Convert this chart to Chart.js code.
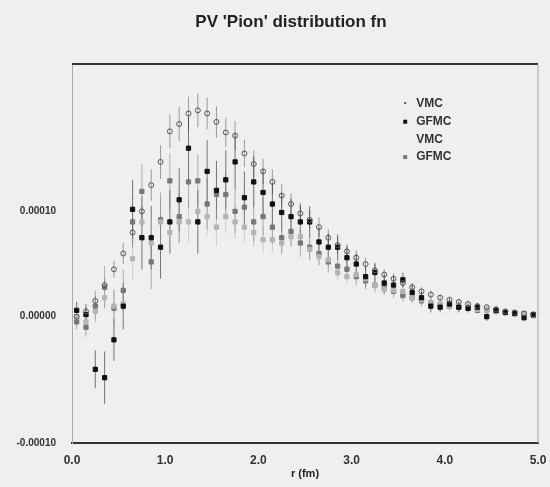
<!DOCTYPE html>
<html lang="en">
<head>
    <meta charset="UTF-8">
    <title>PV 'Pion' distribution fn</title>
    <script src="https://cdn.jsdelivr.net/npm/chart.js"></script>
    <style>
        html, body { margin: 0; padding: 0; background: #efefef; }
        #wrap { width: 550px; height: 487px; }
    </style>
</head>
<body>
<div id="wrap"><canvas id="pionChart" width="550" height="487"></canvas></div>
<script>
// r (fm) where the points sit
const rVals = [0.05,0.15,0.25,0.35,0.45,0.55,0.65,0.75,0.85,0.95,
               1.05,1.15,1.25,1.35,1.45,1.55,1.65,1.75,1.85,1.95,
               2.05,2.15,2.25,2.35,2.45,2.55,2.65,2.75,2.85,2.95,
               3.05,3.15,3.25,3.35,3.45,3.55,3.65,3.75,3.85,3.95,
               4.05,4.15,4.25,4.35,4.45,4.55,4.65,4.75,4.85,4.95];

// values below are in units of 1e-5
const UNIT = 1e-5;

const vmcA = [0.0,0.5,1.5,3.0,4.5,6.0,8.0,10.0,12.5,14.7,
              17.6,18.3,19.3,19.6,19.3,18.5,17.5,17.2,15.5,14.5,
              13.8,12.8,11.5,10.7,9.8,9.2,8.5,7.5,6.8,6.2,
              5.6,5.0,4.4,4.0,3.6,3.2,2.8,2.4,2.1,1.8,
              1.6,1.4,1.2,1.0,0.9,0.7,0.5,0.4,0.3,0.2];
const vmcAErr = [0.3,0.4,0.5,0.6,0.8,1.0,1.2,1.4,1.5,1.6,
                 1.6,1.6,1.6,1.6,1.5,1.5,1.4,1.4,1.3,1.3,
                 1.2,1.2,1.1,1.0,1.0,0.9,0.9,0.8,0.8,0.7,
                 0.7,0.6,0.6,0.5,0.5,0.5,0.4,0.4,0.4,0.3,
                 0.3,0.3,0.3,0.3,0.2,0.2,0.2,0.2,0.2,0.2];

const gfmcA = [0.6,0.2,-5.0,-5.8,-2.2,1.0,10.2,7.5,7.5,6.6,
               9.0,11.1,16.0,9.0,13.8,12.0,13.0,14.7,11.3,12.8,
               11.8,10.7,9.9,9.5,9.0,9.0,7.1,6.6,6.6,5.6,
               5.0,3.8,4.2,3.2,3.0,3.5,2.3,1.8,1.0,0.9,
               1.2,0.9,0.8,0.9,0.0,0.6,0.4,0.3,-0.1,0.2];
const gfmcAErr = [0.8,1.0,1.8,2.5,2.0,2.2,2.8,3.0,3.0,3.0,
                  3.0,3.0,3.0,3.0,3.0,2.8,2.8,2.6,2.5,2.4,
                  2.2,2.0,1.8,1.7,1.6,1.5,1.4,1.3,1.2,1.1,
                  1.0,1.0,0.9,0.8,0.8,0.7,0.7,0.6,0.6,0.5,
                  0.5,0.5,0.4,0.4,0.4,0.4,0.3,0.3,0.3,0.3];

const vmcB = [0.0,-0.5,0.5,1.8,1.0,1.2,5.5,9.0,7.0,9.0,
              8.0,9.0,9.0,10.0,9.5,8.5,9.5,9.0,8.5,8.0,
              7.3,7.3,7.0,7.6,7.6,6.4,5.7,5.4,4.2,3.8,
              4.0,3.6,3.0,2.6,2.5,2.4,1.8,1.6,1.3,1.2,
              1.0,0.9,0.8,0.7,0.6,0.5,0.4,0.4,0.3,0.2];
const vmcBErr = [0.5,0.6,0.8,1.0,1.5,1.8,2.0,2.2,2.2,2.2,
                 2.0,2.0,2.0,2.0,1.8,1.8,1.6,1.6,1.5,1.4,
                 1.3,1.2,1.1,1.0,1.0,0.9,0.8,0.8,0.7,0.7,
                 0.6,0.6,0.5,0.5,0.5,0.4,0.4,0.4,0.3,0.3,
                 0.3,0.3,0.3,0.2,0.2,0.2,0.2,0.2,0.2,0.2];

const gfmcB = [-0.5,-1.0,1.0,2.8,0.8,2.5,9.0,11.9,5.2,9.2,
               12.9,9.5,12.8,12.9,10.7,11.6,11.6,10.0,10.4,9.0,
               9.5,8.5,7.5,8.1,7.0,6.6,6.0,5.2,4.8,4.5,
               3.8,3.4,3.0,2.8,2.4,2.0,1.8,1.5,1.3,1.1,
               1.0,0.9,0.8,0.6,0.6,0.5,0.4,0.3,0.3,0.1];
const gfmcBErr = [0.7,0.9,1.5,2.0,1.8,2.0,2.5,2.6,2.6,2.6,
                  2.6,2.5,2.5,2.5,2.4,2.3,2.2,2.1,2.0,1.9,
                  1.8,1.6,1.5,1.4,1.3,1.2,1.1,1.0,1.0,0.9,
                  0.8,0.8,0.7,0.7,0.6,0.6,0.5,0.5,0.5,0.4,
                  0.4,0.4,0.3,0.3,0.3,0.3,0.3,0.2,0.2,0.2];

const seriesLabels = ['VMC', 'GFMC', 'VMC', 'GFMC'];
const xTickVals = [0, 1, 2, 3, 4, 5];
const yTickVals = [-0.00012, 0, 0.0001];
const yTickLabels = ['-0.00010', '0.00000', '0.00010'];
const titleText = "PV 'Pion' distribution fn";

function pts(vals) {
    return vals.map((v, i) => ({ x: rVals[i], y: v * UNIT }));
}

const FONT = '"Liberation Sans", Arial, sans-serif';

const seriesStyle = [
    { color: '#555', fill: 'rgba(0,0,0,0)', shape: 'circle', r: 2.5, err: vmcAErr },
    { color: '#111', fill: '#111', shape: 'rect', r: 3, err: gfmcAErr },
    { color: '#b4b4b4', fill: '#b4b4b4', shape: 'rect', r: 3, err: vmcBErr },
    { color: '#777', fill: '#777', shape: 'rect', r: 3, err: gfmcBErr }
];
const seriesData = [vmcA, gfmcA, vmcB, gfmcB];

// vertical error bars, drawn under the markers
const errorBars = {
    id: 'errorBars',
    beforeDatasetsDraw(chart) {
        const ctx = chart.ctx;
        const ys = chart.scales.y;
        ctx.save();
        chart.data.datasets.forEach((ds, i) => {
            const meta = chart.getDatasetMeta(i);
            const errs = seriesStyle[i].err;
            ctx.strokeStyle = seriesStyle[i].color;
            ctx.globalAlpha = 0.55;
            ctx.lineWidth = 1;
            meta.data.forEach((p, j) => {
                const v = seriesData[i][j] * UNIT;
                const e = errs[j] * UNIT;
                ctx.beginPath();
                ctx.moveTo(p.x, ys.getPixelForValue(v + e));
                ctx.lineTo(p.x, ys.getPixelForValue(v - e));
                ctx.stroke();
            });
        });
        ctx.restore();
    }
};

// title, frame lines and the legend inside the plot
const frameAndLegend = {
    id: 'frameAndLegend',
    afterDraw(chart) {
        const ctx = chart.ctx;
        const a = chart.chartArea;
        ctx.save();

        ctx.font = 'bold 17px ' + FONT;
        ctx.fillStyle = '#222';
        ctx.textAlign = 'center';
        ctx.textBaseline = 'middle';
        ctx.fillText(titleText, chart.width / 2 + 16, 22);
        ctx.textAlign = 'left';

        ctx.strokeStyle = '#333';
        ctx.lineWidth = 2;
        ctx.beginPath();
        ctx.moveTo(a.left, a.top);
        ctx.lineTo(a.right, a.top);
        ctx.stroke();
        ctx.strokeStyle = '#aaa';
        ctx.lineWidth = 1;
        ctx.beginPath();
        ctx.moveTo(a.right, a.top);
        ctx.lineTo(a.right, a.bottom);
        ctx.stroke();

        // legend
        const lx = a.left + 0.715 * (a.right - a.left);
        let ly = a.top + 40;
        ctx.font = 'bold 12px ' + FONT;
        seriesLabels.forEach((lab, i) => {
            const s = seriesStyle[i];
            ctx.fillStyle = s.fill === 'rgba(0,0,0,0)' ? s.color : s.fill;
            if (i === 0) {
                ctx.fillRect(lx - 1, ly - 2, 2, 2);
            } else if (i !== 2) {
                ctx.fillRect(lx - 2, ly - 2, 4, 4);
            }
            ctx.fillStyle = '#333';
            ctx.fillText(lab, lx + 11, ly);
            ly += 17.7;
        });
        ctx.restore();
    }
};

const ctx = document.getElementById('pionChart').getContext('2d');
new Chart(ctx, {
    type: 'scatter',
    data: {
        datasets: seriesData.map((vals, i) => ({
            label: seriesLabels[i],
            data: pts(vals),
            pointStyle: seriesStyle[i].shape,
            pointRadius: seriesStyle[i].r,
            pointBorderWidth: 1,
            pointBorderColor: seriesStyle[i].color,
            pointBackgroundColor: seriesStyle[i].fill
        }))
    },
    options: {
        responsive: false,
        animation: false,
        layout: { padding: { left: 0, right: 12, top: 64, bottom: 6 } },
        plugins: {
            legend: { display: false },
            tooltip: { enabled: false },
            title: { display: false }
        },
        scales: {
            x: {
                type: 'linear',
                min: 0,
                max: 5,
                afterBuildTicks: s => { s.ticks = xTickVals.map(v => ({ value: v })); },
                afterFit: s => { s.height = 38; },
                grid: { display: false },
                border: { display: true, color: '#333', width: 2 },
                ticks: {
                    color: '#333',
                    padding: 2,
                    font: { family: FONT, size: 12, weight: 'bold' },
                    callback: v => v.toFixed(1)
                },
                title: {
                    display: true,
                    text: 'r (fm)',
                    color: '#222',
                    padding: 0,
                    font: { family: FONT, size: 11, weight: 'bold' }
                }
            },
            y: {
                type: 'linear',
                min: -0.00012,
                max: 0.00024,
                afterBuildTicks: s => { s.ticks = yTickVals.map(v => ({ value: v })); },
                afterFit: s => { s.width = 72; },
                grid: { display: false },
                border: { display: true, color: '#aaa', width: 1 },
                ticks: {
                    color: '#333',
                    padding: 8,
                    font: { family: FONT, size: 10, weight: 'bold' },
                    callback: (v) => {
                        const k = yTickVals.indexOf(v);
                        return k >= 0 ? yTickLabels[k] : '';
                    }
                }
            }
        }
    },
    plugins: [errorBars, frameAndLegend]
});
</script>
</body>
</html>
